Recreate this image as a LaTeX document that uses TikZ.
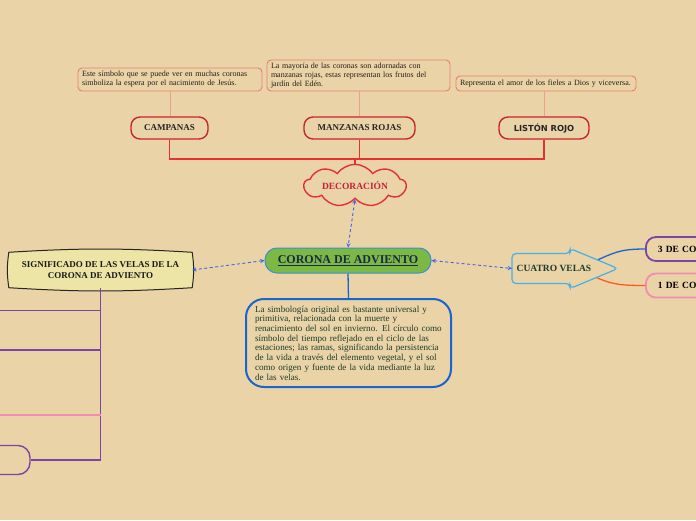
\documentclass[tikz,border=0pt]{standalone}
\usepackage{fontspec}
\setmainfont{Liberation Serif}
\newfontfamily\listonfont{DejaVu Sans}
\usepackage{tikz}
\usetikzlibrary{positioning}
\usetikzlibrary{arrows}
\usetikzlibrary{shapes.symbols}
\usetikzlibrary{backgrounds}
\newcommand\apretado{\lineskiplimit=-10pt\relax}
\definecolor{fondo}{RGB}{233,211,167}
\definecolor{notaborde}{RGB}{232,128,118}
\definecolor{notalinea}{RGB}{236,160,140}
\definecolor{notatexto}{RGB}{40,30,25}
\definecolor{botonborde}{RGB}{198,40,40}
\definecolor{rojo}{RGB}{228,50,50}
\definecolor{decotexto}{RGB}{196,36,56}
\definecolor{verde}{RGB}{124,184,68}
\definecolor{azulborde}{RGB}{58,143,216}
\definecolor{azulnoche}{RGB}{26,40,74}
\definecolor{azulflecha}{RGB}{70,100,230}
\definecolor{azuldesc}{RGB}{25,100,205}
\definecolor{verdetexto}{RGB}{30,60,42}
\definecolor{sigfondo}{RGB}{237,229,166}
\definecolor{morado}{RGB}{126,68,163}
\definecolor{rosa}{RGB}{240,141,176}
\definecolor{celeste}{RGB}{74,176,228}
\definecolor{naranja}{RGB}{255,90,31}
\tikzset{
  nota/.style={rectangle,rounded corners=4pt,draw=notaborde,line width=0.9pt,
               align=left,inner xsep=4pt,inner ysep=2pt,text=notatexto,
               font=\fontsize{8}{9}\selectfont\apretado},
  boton/.style={rectangle,rounded corners=9pt,draw=botonborde,line width=1.4pt,
                minimum height=22pt,text=black!85,
                font=\fontsize{9}{10}\selectfont\bfseries},
  notalink/.style={draw=notalinea,line width=1pt},
  enlace/.style={draw=rojo,line width=1.3pt},
  decoracion/.style={cloud,cloud puffs=9,cloud puff arc=110,aspect=3.4,
                     draw=rojo,line width=1.4pt,fill=fondo,inner sep=0pt,
                     minimum width=102pt,minimum height=26pt,text=decotexto,
                     font=\fontsize{9.5}{11}\selectfont\bfseries},
  centro/.style={rectangle,rounded corners=12pt,fill=verde,draw=azulborde,
                 line width=1pt,minimum width=166pt,minimum height=25pt,
                 text=azulnoche,font=\fontsize{12}{14}\selectfont\bfseries},
  flecha/.style={>=stealth,<->,draw=azulflecha,line width=0.9pt,
                 dash pattern=on 3pt off 2.5pt},
  desc/.style={rectangle,rounded corners=18pt,draw=azuldesc,line width=2pt,
               text width=187pt,inner xsep=9pt,minimum height=88pt,
               align=left,text=verdetexto,
               font=\fontsize{9.1}{9.7}\selectfont\apretado},
  desclink/.style={draw=azuldesc,line width=1.3pt},
  significado/.style={rectangle,minimum width=183pt,minimum height=35pt,
                      align=center,text=black!90,
                      font=\fontsize{9}{11}\selectfont\bfseries},
  sigborde/.style={draw=black!85,line width=1pt,fill=sigfondo},
  rama/.style={draw=morado,line width=1.3pt},
  ramarosa/.style={draw=rosa,line width=1.3pt},
  hijo/.style={rectangle,rounded corners=12pt,draw=morado,line width=1.4pt,
               minimum width=60pt,minimum height=29pt},
  velas/.style={inner sep=0pt,text=verdetexto,
                font=\fontsize{9.5}{11}\selectfont\bfseries},
  velasborde/.style={draw=celeste,line width=1.2pt,fill=fondo,
                     rounded corners=4pt},
  vela/.style={rectangle,rounded corners=10pt,line width=1.8pt,anchor=west,
               minimum height=24pt,text width=80pt,inner xsep=12pt,align=left,
               font=\fontsize{9.5}{11}\selectfont\bfseries},
}
\begin{document}
\begin{tikzpicture}[x=1pt,y=-1pt]
  \begin{pgfonlayer}{background}
    \fill[fondo] (0,0) rectangle (696,520);
  \end{pgfonlayer}
  \useasboundingbox (0,0) rectangle (696,520);
  \clip (0,0) rectangle (696,520);

  % Notas
  \node[nota,text width=176pt,minimum height=23pt] (nota1) at (170,79.5)
      {Este símbolo que se puede ver en muchas coronas\\
       simboliza la espera por el nacimiento de Jesús.};
  \node[nota,text width=175pt,minimum height=31pt] (nota2) at (358.5,75.5)
      {La mayoría de las coronas son adornadas con\\
       manzanas rojas, estas representan los frutos del\\
       jardín del Edén.};
  \node[nota,text width=172pt,minimum height=15pt] (nota3) at (546,83.5)
      {Representa el amor de los fieles a Dios y viceversa.};

  % Decoraciones
  \node[boton,minimum width=77pt]  (campanas) at (169.5,128) {CAMPANAS};
  \node[boton,minimum width=111pt] (manzanas) at (359.5,128) {MANZANAS ROJAS};
  \node[boton,minimum width=90pt,font=\listonfont\fontsize{8.3}{10}\selectfont\bfseries]
      (liston) at (544,128) {LISTÓN ROJO};

  \draw[notalink] (nota1.south) -- (nota1.south |- campanas.north);
  \draw[notalink] (nota2.south -| manzanas) -- (manzanas.north);
  \draw[notalink] (nota3.south -| liston) -- (liston.north);

  \node[decoracion] (deco) at (355,185.5) {DECORACIÓN};
  \coordinate (bus) at (355,159);
  \draw[enlace] (campanas.south) |- (bus) -- (deco.north);
  \draw[enlace] (liston.south) |- (bus);
  \draw[enlace] (manzanas.south) -- (manzanas.south |- bus);

  % Tema central
  \node[centro] (corona) at (348,260.5) {\underline{CORONA DE ADVIENTO}};
  \node[desc] (texto) at (348.5,343)
      {La simbología original es bastante universal y\\
       primitiva, relacionada con la muerte y\\
       renacimiento del sol en invierno. El círculo como\\
       símbolo del tiempo reflejado en el ciclo de las\\
       estaciones; las ramas, significando la persistencia\\
       de la vida a través del elemento vegetal, y el sol\\
       como origen y fuente de la vida mediante la luz\\
       de las velas.};
  \draw[desclink] (corona.south) -- (texto.north);

  % Significado de las velas
  \node[significado] (sig) at (100.5,270)
      {SIGNIFICADO DE LAS VELAS DE LA\\CORONA DE ADVIENTO};
  \begin{pgfonlayer}{background}
    \draw[sigborde] (sig.north west) to[bend left=3.5] (sig.north east)
        to[bend left=8] (sig.south east) to[bend left=3.5] (sig.south west)
        to[bend left=8] cycle;
  \end{pgfonlayer}
  \node[hijo] (hijo4) at (0,460) {};
  \coordinate (rama1) at (0,310.5);
  \coordinate (rama2) at (0,350);
  \coordinate (rama3) at (0,415);
  \draw[rama] (sig.south) |- (hijo4.east);
  \draw[rama] (sig.south |- rama1) -- (rama1);
  \draw[rama] (sig.south |- rama2) -- (rama2);
  \draw[ramarosa] (sig.south |- rama3) -- (rama3);

  % Cuatro velas
  \node[vela,draw=morado] (tres) at (645,249) {3 DE CO};
  \node[vela,draw=rosa]   (uno)  at (645,285.5) {1 DE CO};
  \coordinate (velasc) at (554,268.5);
  \draw[draw=azuldesc,line width=1.3pt] ([xshift=38pt,yshift=6pt]velasc)
      .. controls +(22,-10) and +(-25,0) .. (tres.west);
  \draw[draw=naranja,line width=1.3pt] ([xshift=40pt,yshift=-8pt]velasc)
      .. controls +(18,8) and +(-25,0) .. (uno.west);
  \draw[velasborde] (velasc) ++(-42,-15) -- ++(58,0) -- ++(0,-5)
      -- ++(48,20) -- ++(-48,20) -- ++(0,-5) -- ++(-58,0) -- cycle;
  \node[velas] (velas) at (velasc) {CUATRO VELAS};

  % Enlaces punteados
  \draw[flecha] (deco.south) -- (corona.north);
  \draw[flecha] (corona.west) -- (sig.east);
  \draw[flecha] (corona.east) -- ([xshift=-42pt]velasc);
\end{tikzpicture}
\end{document}
